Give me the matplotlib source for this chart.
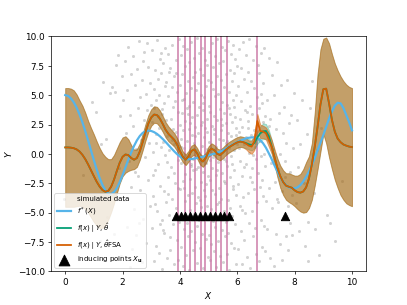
import numpy as np
import matplotlib
matplotlib.use("Agg")
import matplotlib.pyplot as plt

# grid the posterior curves are sampled on
xs = np.linspace(0, 10, 101)

f_true = [5.00, 4.93, 4.72, 4.38, 3.92, 3.35, 2.68, 1.93, 1.12, 0.28,
          -0.55, -1.35, -2.05, -2.65, -3.10, -3.38, -3.42, -3.25, -2.90, -2.40,
          -1.80, -1.15, -0.50, 0.12, 0.68, 1.15, 1.52, 1.78, 1.93, 1.98,
          1.95, 1.85, 1.70, 1.50, 1.27, 1.02, 0.75, 0.48, 0.22, -0.02,
          -0.22, -0.36, -0.44, -0.46, -0.44, -0.40, -0.35, -0.30, -0.24, -0.17,
          -0.10, -0.05, 0.02, 0.10, 0.20, 0.30, 0.45, 0.60, 0.75, 0.88,
          1.00, 1.12, 1.22, 1.31, 1.37, 1.40, 1.40, 1.35, 1.18, 0.90,
          0.52, 0.05, -0.45, -1.00, -1.50, -1.98, -2.38, -2.66, -2.84, -2.92,
          -2.92, -2.85, -2.65, -2.35, -1.95, -1.50, -0.95, -0.35, 0.30, 0.95,
          1.60, 2.30, 3.00, 3.60, 4.10, 4.35, 4.30, 3.90, 3.30, 2.70, 2.00]

fsa_mean = [0.55, 0.55, 0.53, 0.48, 0.38, 0.20, -0.08, -0.45, -0.90, -1.40,
            -1.90, -2.38, -2.78, -3.08, -3.22, -3.15, -2.80, -2.20, -1.45, -0.75,
            -0.25, -0.05, -0.10, -0.35, -0.50, -0.35, 0.20, 1.00, 1.85, 2.60,
            3.10, 3.35, 3.30, 3.00, 2.55, 2.05, 1.70, 1.45, 1.20, 0.80,
            0.25, -0.25, -0.50, -0.20, 0.25, 0.38, 0.05, -0.45, -0.65, -0.35,
            0.20, 0.45, 0.30, 0.00, -0.10, 0.10, 0.35, 0.55, 0.70, 0.85,
            0.98, 1.05, 1.00, 0.88, 0.70, 0.62, 1.10, 2.80, 1.95, 1.90,
            1.75, 1.20, 0.60, -0.30, -1.20, -1.90, -2.40, -2.70, -2.80, -2.88,
            -3.10, -3.25, -3.30, -3.20, -2.85, -2.10, -0.90, 0.60, 2.30, 4.20,
            5.50, 5.55, 4.30, 2.90, 1.90, 1.30, 1.00, 0.80, 0.70, 0.62, 0.58]

fsa_upper = [5.60, 5.60, 5.55, 5.40, 5.05, 4.55, 4.10, 3.50, 2.80, 2.20,
             1.65, 1.05, 0.50, 0.05, -0.25, -0.45, -0.45, -0.10, 0.45, 1.00,
             1.40, 1.50, 1.25, 0.75, 0.35, 0.40, 0.90, 1.70, 2.55, 3.30,
             3.80, 4.05, 4.00, 3.70, 3.22, 2.70, 2.33, 2.05, 1.78, 1.35,
             0.75, 0.20, -0.05, 0.25, 0.70, 0.83, 0.50, 0.00, -0.20, 0.10,
             0.65, 0.90, 0.75, 0.45, 0.35, 0.55, 0.80, 1.00, 1.15, 1.30,
             1.43, 1.50, 1.45, 1.33, 1.15, 1.10, 1.75, 3.40, 2.50, 2.40,
             2.25, 1.80, 1.20, 0.40, -0.40, -1.00, -1.40, -1.65, -1.65, -1.75,
             -1.85, -1.85, -1.70, -1.30, -0.70, -0.20, 0.90, 3.50, 6.80, 8.90,
             9.80, 9.90, 9.40, 8.50, 7.70, 7.10, 6.60, 6.20, 5.90, 5.70, 5.60]

fsa_lower = [-4.50, -4.50, -4.50, -4.50, -4.45, -4.40, -4.50, -4.70, -5.00, -5.40,
             -5.80, -6.10, -6.30, -6.30, -6.10, -5.60, -4.95, -4.20, -3.35, -2.50,
             -1.90, -1.60, -1.45, -1.35, -1.30, -1.10, -0.50, 0.30, 1.15, 1.90,
             2.40, 2.65, 2.60, 2.30, 1.88, 1.40, 1.07, 0.85, 0.62, 0.25,
             -0.25, -0.70, -0.95, -0.65, -0.20, -0.07, -0.40, -0.90, -1.10, -0.80,
             -0.25, 0.00, -0.15, -0.45, -0.55, -0.35, -0.10, 0.10, 0.25, 0.40,
             0.53, 0.60, 0.55, 0.40, 0.15, 0.00, 0.35, 2.00, 1.35, 1.35,
             1.20, 0.60, 0.00, -1.00, -2.00, -2.90, -3.50, -3.90, -4.10, -4.25,
             -4.45, -4.70, -4.90, -5.00, -4.95, -4.60, -3.90, -2.70, -1.30, 0.20,
             1.70, 0.90, -0.30, -1.30, -2.20, -2.90, -3.50, -3.90, -4.20, -4.35, -4.45]

gp_mean = [0.55, 0.55, 0.53, 0.48, 0.38, 0.20, -0.08, -0.45, -0.90, -1.40,
           -1.90, -2.38, -2.78, -3.08, -3.22, -3.15, -2.80, -2.20, -1.45, -0.75,
           -0.25, -0.05, -0.10, -0.35, -0.50, -0.35, 0.20, 1.00, 1.85, 2.60,
           3.10, 3.35, 3.30, 3.00, 2.55, 2.05, 1.70, 1.45, 1.20, 0.80,
           0.25, -0.25, -0.50, -0.20, 0.25, 0.38, 0.05, -0.45, -0.65, -0.35,
           0.20, 0.45, 0.30, 0.00, -0.10, 0.10, 0.35, 0.55, 0.70, 0.85,
           0.98, 1.05, 1.00, 0.92, 0.82, 0.75, 0.95, 1.40, 1.75, 1.92,
           1.95, 1.50, 0.65, -0.30, -1.20, -1.90, -2.40, -2.70, -2.80, -2.88,
           -3.10, -3.25, -3.30, -3.20, -2.85, -2.10, -0.90, 0.60, 2.30, 4.20,
           5.50, 5.55, 4.30, 2.90, 1.90, 1.30, 1.00, 0.80, 0.70, 0.62, 0.58]

gp_upper = [5.60, 5.60, 5.55, 5.40, 5.05, 4.55, 4.10, 3.50, 2.80, 2.20,
            1.65, 1.05, 0.50, 0.05, -0.25, -0.45, -0.45, -0.10, 0.45, 1.00,
            1.40, 1.50, 1.25, 0.75, 0.35, 0.40, 0.90, 1.70, 2.55, 3.30,
            3.80, 4.05, 4.00, 3.70, 3.22, 2.70, 2.33, 2.05, 1.78, 1.35,
            0.75, 0.20, -0.05, 0.25, 0.70, 0.83, 0.50, 0.00, -0.20, 0.10,
            0.65, 0.90, 0.75, 0.45, 0.35, 0.55, 0.80, 1.00, 1.15, 1.30,
            1.43, 1.50, 1.45, 1.37, 1.27, 1.20, 1.45, 1.95, 2.35, 2.60,
            2.55, 2.05, 1.20, 0.25, -0.40, -1.00, -1.40, -1.65, -1.65, -1.75,
            -1.85, -1.85, -1.70, -1.30, -0.70, -0.20, 0.90, 3.50, 6.80, 8.90,
            9.80, 9.90, 9.40, 8.50, 7.70, 7.10, 6.60, 6.20, 5.90, 5.70, 5.60]

gp_lower = [-4.50, -4.50, -4.50, -4.50, -4.45, -4.40, -4.50, -4.70, -5.00, -5.40,
            -5.80, -6.10, -6.30, -6.30, -6.10, -5.60, -4.95, -4.20, -3.35, -2.50,
            -1.90, -1.60, -1.45, -1.35, -1.30, -1.10, -0.50, 0.30, 1.15, 1.90,
            2.40, 2.65, 2.60, 2.30, 1.88, 1.40, 1.07, 0.85, 0.62, 0.25,
            -0.25, -0.70, -0.95, -0.65, -0.20, -0.07, -0.40, -0.90, -1.10, -0.80,
            -0.25, 0.00, -0.15, -0.45, -0.55, -0.35, -0.10, 0.10, 0.25, 0.40,
            0.53, 0.60, 0.55, 0.47, 0.37, 0.30, 0.45, 0.85, 1.15, 1.25,
            1.30, 0.95, 0.10, -0.85, -2.00, -2.90, -3.50, -3.90, -4.10, -4.25,
            -4.45, -4.70, -4.90, -5.00, -4.95, -4.60, -3.90, -2.70, -1.30, 0.20,
            1.70, 0.90, -0.30, -1.30, -2.20, -2.90, -3.50, -3.90, -4.20, -4.35, -4.45]

# inducing inputs and the lines marking them
ind_x = [3.85, 4.02, 4.19, 4.36, 4.53, 4.70, 4.87, 5.04, 5.21, 5.38, 5.55, 5.72, 7.65]
ind_y = [-5.3] * len(ind_x)
vline_x = [3.95, 4.16, 4.36, 4.54, 4.73, 4.89, 5.08, 5.26, 5.44, 5.65, 6.68]

# simulated observations (x, y), read off the cloud
sim_pts = [
    (0.62, -1.8), (0.95, 4.4), (1.08, 3.6), (1.21, -7.4), (1.33, 6.1), (1.42, 1.3),
    (1.55, 5.2), (1.63, 5.7), (1.70, -6.8), (1.72, 5.3), (1.78, 7.6), (1.84, 8.4),
    (1.88, -1.2), (1.91, 3.2), (1.95, -8.7), (1.97, 6.6), (1.46, -5.4), (1.26, 0.8),
    (2.02, 4.6), (2.05, -3.9), (2.08, 7.9), (2.11, 1.8), (2.14, -6.2), (2.17, 5.4),
    (2.19, 9.1), (2.22, -0.6), (2.25, 3.3), (2.28, -2.8), (2.30, 6.8), (2.33, -8.1),
    (2.36, 2.4), (2.38, 8.3), (2.41, -4.7), (2.43, 5.9), (2.46, 0.4), (2.48, -6.9),
    (2.51, 7.2), (2.53, 3.9), (2.55, -1.9), (2.58, 9.6), (2.60, -3.1), (2.62, 4.8),
    (2.65, 1.2), (2.67, -9.2), (2.69, 6.3), (2.72, -5.5), (2.74, 2.9), (2.76, 8.7),
    (2.79, -0.3), (2.81, 5.1), (2.83, -7.6), (2.85, 3.7), (2.88, 7.4), (2.90, -2.2),
    (2.92, 0.9), (2.94, 6.0), (2.96, -4.4), (2.98, 4.2), (2.27, -9.6), (2.57, -5.9),
    (2.86, 9.4), (2.44, -1.5), (2.71, 7.9),
    (3.01, 2.7), (3.02, -6.3), (3.04, 8.8), (3.05, 0.2), (3.07, -3.6), (3.08, 5.5),
    (3.10, -9.1), (3.11, 3.9), (3.12, 7.1), (3.14, -1.4), (3.15, 4.6), (3.17, -7.8),
    (3.18, 1.7), (3.20, 9.7), (3.21, -4.9), (3.23, 6.4), (3.24, -0.9), (3.26, 2.2),
    (3.27, -8.4), (3.28, 5.0), (3.30, 8.1), (3.31, -2.7), (3.33, 0.6), (3.34, 6.9),
    (3.36, -5.6), (3.37, 3.4), (3.39, -9.8), (3.40, 1.0), (3.41, 7.7), (3.43, -3.2),
    (3.44, 4.3), (3.46, -6.7), (3.47, 9.0), (3.49, -0.1), (3.50, 2.9), (3.52, -4.1),
    (3.53, 6.1), (3.55, -8.9), (3.56, 1.5), (3.58, 8.5), (3.59, -2.0), (3.60, 4.9),
    (3.62, -5.2), (3.63, 0.3), (3.65, 7.3), (3.66, -7.1), (3.68, 3.0), (3.69, -1.1),
    (3.71, 5.7), (3.72, 9.3), (3.74, -3.8), (3.75, 2.1), (3.77, -6.0), (3.78, 6.6),
    (3.80, -9.4), (3.81, 0.8), (3.82, 4.5), (3.84, -2.5), (3.85, 8.0), (3.87, -4.6),
    (3.88, 1.9), (3.90, -7.3), (3.91, 5.3), (3.93, -0.5), (3.94, 3.6), (3.96, 9.8),
    (3.97, -5.8), (3.99, 2.5), (3.06, -1.8), (3.16, 0.9), (3.29, -6.0), (3.38, 3.8),
    (3.48, 5.8), (3.57, -3.4), (3.67, -8.2), (3.76, 4.0), (3.86, 6.9), (3.95, -2.9),
    (3.13, -4.3), (3.35, 8.6), (3.54, -0.7), (3.73, 1.2), (3.92, -9.0), (3.22, 3.2),
    (3.42, -6.5), (3.61, 7.0), (3.79, -1.6), (3.98, 0.7),
    (4.00, -3.0), (4.01, 5.9), (4.02, 1.3), (4.03, -7.9), (4.04, 8.4), (4.05, -0.8),
    (4.06, 3.5), (4.07, -5.3), (4.08, 6.8), (4.09, -9.5), (4.10, 2.0), (4.11, -2.3),
    (4.12, 9.2), (4.13, 0.5), (4.14, -6.4), (4.15, 4.7), (4.16, -1.7), (4.17, 7.5),
    (4.18, -4.0), (4.19, 2.8), (4.20, -8.6), (4.21, 5.2), (4.22, -0.2), (4.23, 3.9),
    (4.24, -5.9), (4.25, 8.9), (4.26, 1.1), (4.27, -3.5), (4.28, 6.2), (4.29, -7.0),
    (4.30, 0.0), (4.31, 4.1), (4.32, -9.9), (4.33, 7.8), (4.34, -2.1), (4.35, 2.6),
    (4.36, -4.8), (4.37, 5.6), (4.38, -1.0), (4.39, 9.5), (4.40, -6.6), (4.41, 3.1),
    (4.42, -3.3), (4.43, 1.6), (4.44, -8.2), (4.45, 6.5), (4.46, -0.4), (4.47, 4.4),
    (4.48, -5.1), (4.49, 8.2), (4.50, 0.9), (4.51, -2.8), (4.52, 7.0), (4.53, -7.5),
    (4.54, 2.3), (4.55, -4.2), (4.56, 5.4), (4.57, -1.3), (4.58, 9.9), (4.59, -6.1),
    (4.60, 3.3), (4.61, -9.3), (4.62, 1.8), (4.63, 6.0), (4.64, -3.7), (4.65, 0.1),
    (4.66, 8.6), (4.67, -5.6), (4.68, 4.0), (4.69, -0.6), (4.70, 7.2), (4.71, -8.0),
    (4.72, 2.5), (4.73, -2.4), (4.74, 5.0), (4.75, -4.5), (4.76, 0.7), (4.77, 9.0),
    (4.78, -6.8), (4.79, 3.7), (4.80, -1.5), (4.81, 6.7), (4.82, -9.7), (4.83, 1.4),
    (4.84, -3.1), (4.85, 4.8), (4.86, -5.0), (4.87, 8.0), (4.88, -0.1), (4.89, 2.2),
    (4.90, -7.2), (4.91, 5.8), (4.92, -2.6), (4.93, 3.0), (4.94, 7.6), (4.95, -4.4),
    (4.96, 0.4), (4.97, -8.8), (4.98, 6.3), (4.99, -1.9), (4.035, 0.6), (4.155, -2.9),
    (4.275, 3.4), (4.395, -0.9), (4.515, 1.5), (4.635, -1.1), (4.755, 2.7), (4.875, -3.6),
    (4.955, 1.9), (4.085, 4.6), (4.205, -5.5), (4.325, 2.1), (4.445, -1.4), (4.565, 0.3),
    (4.685, -3.9), (4.805, 4.3), (4.925, -0.8),
    (5.00, 4.1), (5.01, -6.9), (5.02, 1.0), (5.03, 8.7), (5.04, -2.2), (5.05, -9.0),
    (5.06, 3.6), (5.07, 6.1), (5.08, -4.7), (5.09, 0.2), (5.10, -7.7), (5.11, 9.4),
    (5.12, 2.4), (5.13, -1.2), (5.14, 5.5), (5.15, -5.7), (5.16, 7.4), (5.17, -0.3),
    (5.18, -8.3), (5.19, 3.2), (5.20, 1.7), (5.21, -3.4), (5.22, 8.3), (5.23, -6.2),
    (5.24, 4.9), (5.25, -1.8), (5.26, 0.6), (5.27, -9.6), (5.28, 6.6), (5.29, 2.9),
    (5.30, -4.3), (5.31, 9.8), (5.32, -0.7), (5.33, -7.4), (5.34, 5.1), (5.35, 1.3),
    (5.36, -2.9), (5.37, 7.7), (5.38, -5.4), (5.39, 3.8), (5.40, -8.7), (5.41, 0.0),
    (5.42, 6.3), (5.43, -3.8), (5.44, 2.0), (5.45, 9.1), (5.46, -6.5), (5.47, 4.4),
    (5.48, -1.6), (5.49, -9.2), (5.50, 7.9), (5.51, 1.2), (5.52, -4.9), (5.53, 5.7),
    (5.54, -0.4), (5.55, 3.5), (5.56, -7.0), (5.57, 8.8), (5.58, -2.5), (5.59, 0.9),
    (5.60, -5.8), (5.61, 6.8), (5.62, 2.6), (5.63, -8.5), (5.64, 4.2), (5.65, -1.0),
    (5.66, 9.6), (5.67, -3.9), (5.68, 1.8), (5.69, -6.7), (5.70, 5.3), (5.71, 0.5),
    (5.72, -9.9), (5.73, 7.1), (5.74, -2.0), (5.75, 3.4), (5.76, -4.6), (5.77, 8.5),
    (5.78, 1.5), (5.79, -7.6), (5.80, 6.2), (5.81, -0.9), (5.82, 2.7), (5.83, -5.3),
    (5.84, 9.3), (5.85, 4.6), (5.86, -3.0), (5.87, -8.0), (5.88, 0.3), (5.89, 6.9),
    (5.90, -1.4), (5.91, 3.1), (5.92, -6.0), (5.93, 8.1), (5.94, -9.4), (5.95, 2.2),
    (5.96, 5.0), (5.97, -3.5), (5.98, 0.8), (5.99, 7.5), (5.055, -0.5), (5.175, 2.1),
    (5.295, -1.4), (5.415, 3.0), (5.535, -2.3), (5.655, 1.1), (5.775, -0.2), (5.895, 4.0),
    (5.115, -3.1), (5.235, 0.4), (5.355, -4.1), (5.475, 2.5), (5.595, -0.6), (5.715, 3.9),
    (5.835, -2.7), (5.955, 1.6),
    (6.01, -2.6), (6.02, 5.8), (6.04, -8.1), (6.05, 1.9), (6.06, 8.9), (6.08, -4.4),
    (6.09, 3.0), (6.10, -0.6), (6.12, 7.3), (6.13, -6.6), (6.14, 4.5), (6.16, -9.4),
    (6.17, 2.3), (6.18, -1.9), (6.20, 9.5), (6.21, -3.7), (6.22, 0.8), (6.24, 6.4),
    (6.25, -7.3), (6.26, 3.7), (6.28, -5.0), (6.29, 1.4), (6.30, 8.4), (6.32, -0.9),
    (6.33, -8.8), (6.34, 5.3), (6.36, 2.8), (6.37, -3.3), (6.38, 7.0), (6.40, -5.9),
    (6.41, 0.1), (6.42, 9.8), (6.44, -2.0), (6.45, 4.1), (6.46, -9.7), (6.48, 1.6),
    (6.49, 6.2), (6.50, -4.9), (6.52, 3.4), (6.53, -1.2), (6.54, 8.0), (6.56, -7.0),
    (6.57, 2.0), (6.58, -3.0), (6.60, 5.6), (6.61, -6.3), (6.62, 0.6), (6.64, 9.2),
    (6.65, -0.4), (6.66, -8.5), (6.68, 4.8), (6.69, 2.5), (6.70, -4.1), (6.72, 7.6),
    (6.73, -1.6), (6.74, -9.1), (6.76, 3.9), (6.77, 6.9), (6.78, -2.8), (6.80, 1.1),
    (6.81, -5.6), (6.82, 8.6), (6.84, -0.2), (6.85, 4.3), (6.86, -7.9), (6.88, 2.7),
    (6.89, -3.6), (6.90, 6.0), (6.92, 0.0), (6.93, -6.1), (6.94, 9.0), (6.96, -1.0),
    (6.97, 3.2), (6.98, -8.3), (6.07, 0.5), (6.23, -1.1), (6.39, 2.2), (6.55, -0.1),
    (6.71, 1.3), (6.87, -2.2), (6.15, -4.8), (6.35, 3.6), (6.51, -2.4), (6.67, 0.9),
    (6.83, 5.1), (6.99, -4.0),
    (7.02, 4.6), (7.04, -6.4), (7.06, 1.5), (7.09, 8.2), (7.11, -2.9), (7.13, -8.9),
    (7.15, 3.0), (7.18, -0.8), (7.20, 6.7), (7.22, -4.6), (7.25, 0.4), (7.27, -9.5),
    (7.29, 5.0), (7.32, -2.4), (7.34, 2.1), (7.36, -6.8), (7.39, 7.8), (7.41, -1.3),
    (7.43, -4.1), (7.46, 3.5), (7.48, -7.7), (7.50, 0.0), (7.53, 5.9), (7.55, -3.2),
    (7.57, -9.0), (7.60, 1.8), (7.62, -5.4), (7.64, 4.0), (7.67, -2.0), (7.69, -7.0),
    (7.71, 0.9), (7.74, 6.3), (7.76, -4.4), (7.78, -8.2), (7.81, 2.6), (7.83, -1.5),
    (7.85, -5.9), (7.88, 3.3), (7.90, -3.5), (7.92, -6.9), (7.95, 0.5), (7.97, 5.2),
    (7.12, 2.4), (7.38, -3.8), (7.66, -0.6),
    (8.03, -4.2), (8.08, 2.9), (8.14, -6.6), (8.19, 0.8), (8.25, 4.6), (8.31, -2.5),
    (8.36, -7.8), (8.42, 1.7), (8.48, -5.8), (8.55, 3.9), (8.60, 6.2), (8.66, -3.3),
    (8.72, -6.4), (8.79, 0.3), (8.86, -8.6), (8.93, 2.2), (8.12, -1.1), (8.45, -9.1),
    (9.12, -5.2), (9.23, -5.9), (9.40, -7.4), (9.65, -2.3),
]
sim_x = [p[0] for p in sim_pts]
sim_y = [p[1] for p in sim_pts]

blue = '#56B4E9'
green = '#009E73'
orange = '#D55E00'
pink = '#CC79A7'

fig = plt.figure(figsize=(6.4, 4.8), dpi=63.6)
ax = fig.add_subplot(111)

ax.scatter(sim_x, sim_y, s=12, color='grey', alpha=0.35, linewidths=0,
           label='simulated data', zorder=1)
for xv in vline_x:
    ax.axvline(xv, color=pink, lw=2, alpha=0.85, zorder=2)

ax.fill_between(xs, gp_lower, gp_upper, color=green, alpha=0.3, zorder=3)
ax.fill_between(xs, fsa_lower, fsa_upper, color=orange, alpha=0.5, zorder=3)

ax.plot(xs, f_true, color=blue, lw=2.5, label=r'$f^*(X)$', zorder=4)
ax.plot(xs, gp_mean, color=green, lw=2, label=r'$f(x)\mid Y, \hat{\theta}$', zorder=4)
ax.plot(xs, fsa_mean, color=orange, lw=2, label=r'$f(x)\mid Y, \hat{\theta}$FSA', zorder=4)

ax.scatter(ind_x, ind_y, marker='^', s=90, color='black',
           label=r'inducing points $X_\mathbf{u}$', zorder=5)

ax.set_ylim(-10, 10)
ax.set_xlabel('$X$')
ax.set_ylabel('$Y$')
leg = ax.legend(loc='lower left', fontsize=8)
leg.legend_handles[0].set_alpha(0.1)
leg.legend_handles[-1].set_sizes([150])

plt.savefig('out.png', dpi=63.6)
